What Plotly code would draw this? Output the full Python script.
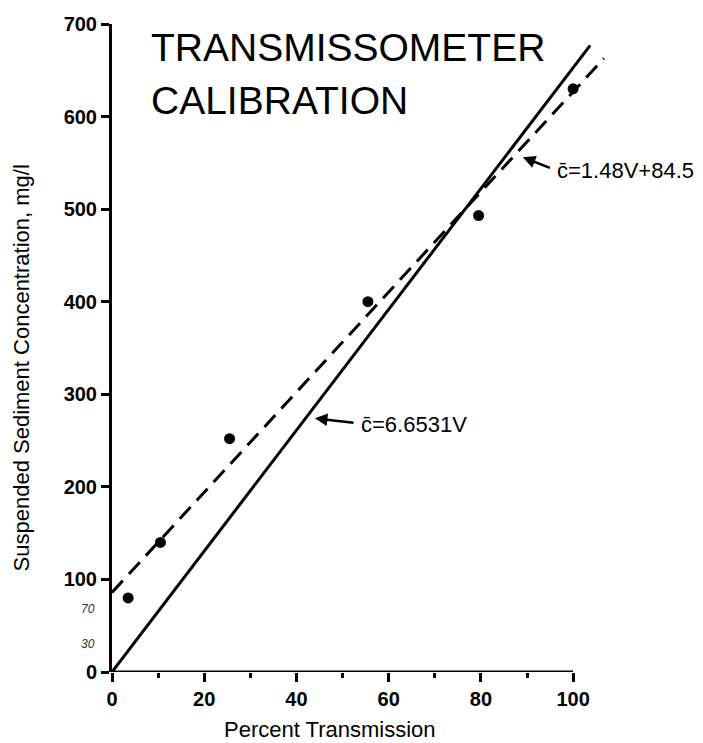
import plotly.graph_objects as go

# Observed calibration points
pct_transmission = [3.5, 10.5, 25.5, 55.5, 79.5, 100]
sediment_conc = [80, 140, 252, 400, 493, 630]

# Fitted lines (end points)
solid_x = [0, 103.7]
solid_y = [0, 677]
dashed_x = [0, 106.7]
dashed_y = [86, 663]

x_ticks = [0, 20, 40, 60, 80, 100]
y_ticks = [0, 100, 200, 300, 400, 500, 600, 700]

FONT = "Liberation Sans, Arial, Helvetica, sans-serif"

fig = go.Figure()
fig.add_trace(go.Scatter(x=solid_x, y=solid_y, mode="lines",
                         line=dict(color="black", width=3), hoverinfo="skip"))
fig.add_trace(go.Scatter(x=dashed_x, y=dashed_y, mode="lines",
                         line=dict(color="black", width=3, dash="16px,9px"), hoverinfo="skip"))
fig.add_trace(go.Scatter(x=pct_transmission, y=sediment_conc, mode="markers",
                         marker=dict(color="black", size=11)))

# x-axis line drawn only over 0..100
fig.add_shape(type="line", xref="x", yref="y", x0=x_ticks[0], x1=x_ticks[-1], y0=0, y1=0,
              line=dict(color="black", width=3))

fig.update_xaxes(range=[0, 108], tickvals=x_ticks, ticks="outside", ticklen=9, tickwidth=3,
                 tickcolor="black", showline=False, showgrid=False, zeroline=False,
                 tickfont=dict(family=FONT, size=20, color="black", weight="bold"),
                 minor=dict(ticks="outside", ticklen=5, tickwidth=3, tickcolor="black", dtick=10, tick0=0,
                            showgrid=False))
fig.update_yaxes(range=[0, 700], tickvals=y_ticks, ticks="outside", ticklen=8, tickwidth=3,
                 tickcolor="black", showline=True, linecolor="black", linewidth=3,
                 showgrid=False, zeroline=False,
                 tickfont=dict(family=FONT, size=20, color="black", weight="bold"))

ann = []
ann.append(dict(text="TRANSMISSOMETER", xref="paper", yref="paper", x=0.074, y=0.963,
                xanchor="left", yanchor="middle", showarrow=False,
                font=dict(family=FONT, size=39, color="black")))
ann.append(dict(text="CALIBRATION", xref="paper", yref="paper", x=0.074, y=0.882,
                xanchor="left", yanchor="middle", showarrow=False,
                font=dict(family=FONT, size=39, color="black")))
# axis titles
ann.append(dict(text="Percent Transmission", xref="paper", yref="paper", x=0.438, y=-0.089,
                xanchor="center", yanchor="middle", showarrow=False,
                font=dict(family=FONT, size=22, color="black")))
ann.append(dict(text="Suspended Sediment Concentration, mg/l", xref="paper", yref="paper",
                x=-0.182, y=0.469, xanchor="center", yanchor="middle", textangle=-90,
                showarrow=False, font=dict(family=FONT, size=22, color="black")))
# line labels
ann.append(dict(text="c\u0304=6.6531V", xref="x", yref="y", x=53.5, y=267,
                xanchor="left", yanchor="middle", showarrow=False,
                font=dict(family=FONT, size=22, color="black")))
ann.append(dict(text="", xref="x", yref="y", x=44.0, y=274, axref="x", ayref="y",
                ax=52.7, ay=269, showarrow=True, arrowhead=2, arrowsize=1, arrowwidth=2.5,
                arrowcolor="black"))
ann.append(dict(text="c\u0304=1.48V+84.5", xref="x", yref="y", x=96.0, y=542,
                xanchor="left", yanchor="middle", showarrow=False,
                font=dict(family=FONT, size=22, color="black")))
ann.append(dict(text="", xref="x", yref="y", x=89.1, y=556, axref="x", ayref="y",
                ax=95.3, ay=544, showarrow=True, arrowhead=2, arrowsize=1, arrowwidth=2.5,
                arrowcolor="black"))
# handwritten scribbles near the y axis
ann.append(dict(text="70", xref="paper", yref="y", x=-0.03, y=68, xanchor="right",
                yanchor="middle", showarrow=False,
                font=dict(family=FONT, size=12, color="#333", style="italic")))
ann.append(dict(text="30", xref="paper", yref="y", x=-0.03, y=30, xanchor="right",
                yanchor="middle", showarrow=False,
                font=dict(family=FONT, size=12, color="#333", style="italic")))

# page has an 8px body margin, so the figure is sized to fit the 703x743 window
fig.update_layout(width=695, height=735, margin=dict(l=104, r=93, t=16, b=71, autoexpand=False),
                  plot_bgcolor="white", paper_bgcolor="white", showlegend=False,
                  annotations=ann)

fig.write_html("out.html")
